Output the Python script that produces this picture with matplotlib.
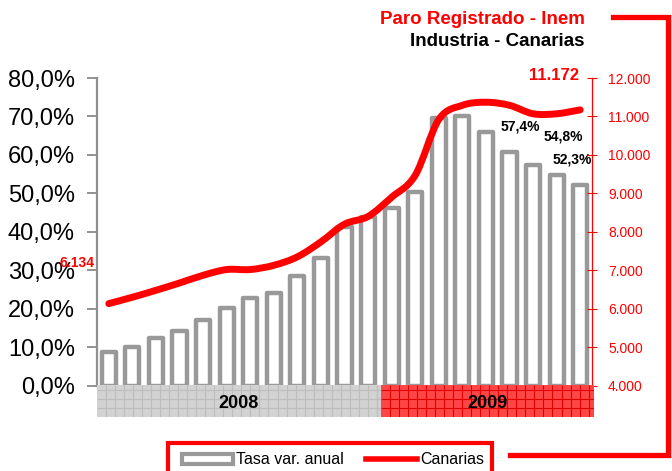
import numpy as np
import matplotlib.pyplot as plt
from matplotlib.path import Path
from matplotlib.patches import PathPatch, Rectangle
from matplotlib.lines import Line2D
from matplotlib.ticker import FixedLocator, FuncFormatter

plt.rcParams['font.family'] = ['Liberation Sans', 'DejaVu Sans']

# === Data ===
meses = ['ene-08', 'feb-08', 'mar-08', 'abr-08', 'may-08', 'jun-08', 'jul-08',
         'ago-08', 'sep-08', 'oct-08', 'nov-08', 'dic-08',
         'ene-09', 'feb-09', 'mar-09', 'abr-09', 'may-09', 'jun-09', 'jul-09',
         'ago-09', 'sep-09']
tasa = [0.087, 0.100, 0.124, 0.141, 0.170, 0.203, 0.228, 0.241, 0.286, 0.332,
        0.412, 0.438, 0.462, 0.503, 0.696, 0.702, 0.660, 0.607, 0.574, 0.548, 0.523]
paro = [6134, 6300, 6480, 6670, 6870, 7020, 7020, 7130, 7350, 7740, 8200,
        8400, 8900, 9470, 10920, 11290, 11370, 11290, 11070, 11070, 11172]
anios = ['2008', '2009']
meses_por_anio = [12, 9]
etiquetas_tasa = {18: '57,4%', 19: '54,8%', 20: '52,3%'}

GRIS = '#999999'
ROJO = '#ff0000'

W, H = 672, 471
def fx(px): return px / W
def fy(py): return 1 - py / H

fig = plt.figure(figsize=(6.72, 4.71), dpi=100)
ax = fig.add_axes([fx(97), fy(385.7), fx(592) - fx(97), fy(78) - fy(385.7)])
x = np.arange(len(meses))

# bars: white with thick grey outline
ax.bar(x, tasa, width=0.6, color='white', edgecolor=GRIS, linewidth=3.2,
       joinstyle='round', zorder=2)
ax.set_xlim(-0.5, len(meses) - 0.5)
ax.set_ylim(0, 0.8)
ax.yaxis.set_major_locator(FixedLocator(np.arange(0, 0.81, 0.1)))
ax.yaxis.set_major_formatter(FuncFormatter(lambda v, p: f"{v*100:.1f}%".replace('.', ',')))
ax.tick_params(axis='y', labelsize=17, length=7, width=1.2, color='#808080', pad=9)
ax.set_xticks([])
for s in ['top', 'right', 'bottom']:
    ax.spines[s].set_visible(False)
ax.spines['left'].set_color('#909090')
ax.spines['left'].set_linewidth(1.6)

offs = {18: (-9, 28), 19: (5, 28), 20: (-6, 18)}
for i, txt in etiquetas_tasa.items():
    ax.annotate(txt, (x[i], tasa[i]), xytext=offs[i], textcoords='offset points',
                ha='center', va='center', fontsize=10, fontweight='bold')

# right axis: smoothed red line
ax2 = ax.twinx()
ax2.set_ylim(4000, 12000)
ax2.yaxis.set_major_locator(FixedLocator(np.arange(4000, 12001, 1000)))
ax2.yaxis.set_major_formatter(FuncFormatter(lambda v, p: f"{int(v):,}".replace(',', '.')))
ax2.tick_params(axis='y', labelsize=10, colors=ROJO, direction='inout', length=7, width=0.8, pad=8)
for s in ['top', 'left', 'bottom']:
    ax2.spines[s].set_visible(False)
ax2.spines['right'].set_color(ROJO)
ax2.spines['right'].set_linewidth(0.9)

def smooth_path(xs, ys):
    pts = np.column_stack([xs, ys]).astype(float)
    verts = [pts[0]]
    codes = [Path.MOVETO]
    n = len(pts)
    for i in range(n - 1):
        p0 = pts[max(i - 1, 0)]
        p1 = pts[i]
        p2 = pts[i + 1]
        p3 = pts[min(i + 2, n - 1)]
        verts += [p1 + (p2 - p0) / 6, p2 - (p3 - p1) / 6, p2]
        codes += [Path.CURVE4] * 3
    return Path(verts, codes)

ax2.add_patch(PathPatch(smooth_path(x, paro), facecolor='none', edgecolor=ROJO,
                        linewidth=5, capstyle='round', joinstyle='round', zorder=3))
ax2.annotate(f"{paro[0]:,}".replace(',', '.'), (x[0], paro[0]), xytext=(-10, 29),
             textcoords='offset points', ha='right', va='center',
             fontsize=10, fontweight='bold', color=ROJO)
ax2.annotate(f"{paro[-1]:,}".replace(',', '.'), (x[-1], paro[-1]), xytext=(-1, 25),
             textcoords='offset points', ha='right', va='center',
             fontsize=12, fontweight='bold', color=ROJO)

# year band under the axis, with a fine grid of cells
axb = fig.add_axes([fx(97), fy(417), fx(594) - fx(97), fy(385) - fy(417)])
axb.set_xlim(-0.5, len(meses) - 0.5)
axb.set_ylim(0, 1)
axb.axis('off')
estilos = [('#d2d2d2', '#bdbdbd'), ('#ff4646', '#e00000')]
paso_x = 9 / 23.6    # ~9 px cells
paso_y = 9 / 32
inicio = -0.5
for anio, n, (fc, lc) in zip(anios, meses_por_anio, estilos):
    axb.add_patch(Rectangle((inicio, 0), n, 1, facecolor=fc, linewidth=0))
    axb.vlines(np.arange(inicio + paso_x, inicio + n, paso_x), 0, 1, color=lc, linewidth=0.8)
    axb.hlines(np.arange(paso_y, 1, paso_y), inicio, inicio + n, color=lc, linewidth=0.8)
    axb.text(inicio + n / 2, 0.42, anio, ha='center', va='center',
             fontsize=13, fontweight='bold')
    inicio += n

# titles
fig.text(fx(585), fy(19), 'Paro Registrado - Inem', ha='right', va='center',
         fontsize=13.5, fontweight='bold', color=ROJO)
fig.text(fx(585), fy(42), 'Industria - Canarias', ha='right', va='center',
         fontsize=13.5, fontweight='bold', color='black')

# red frame decoration
fig.add_artist(Line2D([fx(613), fx(668), fx(668), fx(510)],
                      [fy(17), fy(17), fy(455), fy(455)],
                      transform=fig.transFigure, color=ROJO, linewidth=3.8,
                      solid_joinstyle='miter'))

# legend box
fig.add_artist(Rectangle((fx(168), fy(480)), fx(492) - fx(168), fy(443) - fy(480),
                         transform=fig.transFigure, facecolor='white',
                         edgecolor=ROJO, linewidth=3))
handles = [Rectangle((0, 0), 1, 1, facecolor='white', edgecolor=GRIS, linewidth=3),
           Line2D([0], [0], color=ROJO, linewidth=4)]
fig.legend(handles, ['Tasa var. anual', 'Canarias'], loc='center',
           bbox_to_anchor=(fx(333), fy(460)), ncol=2, frameon=False,
           fontsize=11.5, handlelength=3.2, handleheight=0.6, handletextpad=0.2,
           columnspacing=1.4)

fig.savefig('out.png', dpi=100)
